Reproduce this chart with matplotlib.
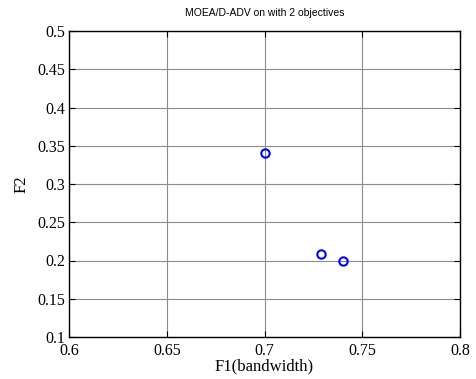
import matplotlib
matplotlib.use("Agg")
import matplotlib.pyplot as plt

# Pareto front points found by MOEA/D-ADV
f1 = [0.700, 0.729, 0.740]
f2 = [0.341, 0.208, 0.200]

xticks = [0.6, 0.65, 0.7, 0.75, 0.8]
yticks = [0.1, 0.15, 0.2, 0.25, 0.3, 0.35, 0.4, 0.45, 0.5]

fig = plt.figure(figsize=(4.76, 3.79), dpi=100)
ax = fig.add_axes([69 / 476, 1 - 337 / 379, (460 - 69) / 476, (337 - 31) / 379])

ax.plot(f1, f2, linestyle="none", marker="o", markersize=6,
        markerfacecolor="none", markeredgecolor="#0000ff", markeredgewidth=1.5)

ax.set_xlim(0.6, 0.8)
ax.set_ylim(0.1, 0.5)
ax.set_xticks(xticks)
ax.set_yticks(yticks)
ax.set_xticklabels([f"{v:g}" for v in xticks])
ax.set_yticklabels([f"{v:g}" for v in yticks])
ax.grid(True, color="#8c8c8c", linewidth=0.8)
ax.set_axisbelow(True)

ax.tick_params(direction="in", length=4, width=0.8, top=True, right=True,
               labelsize=11.5)
ax.tick_params(axis="x", pad=4)
ax.tick_params(axis="y", pad=3)
for lab in ax.get_xticklabels() + ax.get_yticklabels():
    lab.set_fontfamily("Liberation Serif")
for sp in ax.spines.values():
    sp.set_linewidth(1.0)

ax.set_xlabel("F1(bandwidth)", fontfamily="Liberation Serif", fontsize=12, labelpad=0)
ax.set_ylabel("F2", fontfamily="Liberation Serif", fontsize=12, labelpad=5)
ax.set_title("MOEA/D-ADV on with 2 objectives", fontfamily="Liberation Sans",
             fontsize=7.5, pad=11)

fig.savefig("out.png", dpi=100, facecolor="white")
